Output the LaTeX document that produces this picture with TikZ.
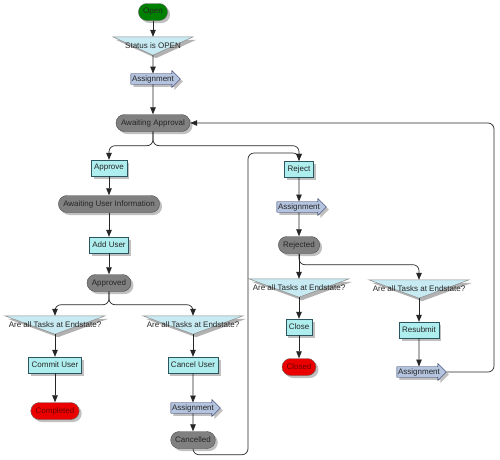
\documentclass[tikz,border=0pt]{standalone}
\usepackage{fontspec}
\setmainfont{Liberation Sans}
\usetikzlibrary{arrows.meta, positioning, shapes.misc, shapes.arrows, shadows, calc}
\pgfdeclarelayer{bg}
\pgfsetlayers{bg,main}
\definecolor{stgreen}{RGB}{0,128,0}
\definecolor{stgrey}{RGB}{128,128,128}
\definecolor{taskcyan}{RGB}{175,238,238}
\definecolor{taskedge}{RGB}{45,85,95}
\definecolor{stred}{RGB}{235,0,0}
\definecolor{asgnblue}{RGB}{180,196,222}
\definecolor{asgnedge}{RGB}{40,50,100}
\definecolor{decfill}{RGB}{200,234,242}

\begin{document}
\begin{tikzpicture}[
  x=1pt, y=-1pt,
  font=\fontsize{8}{9.5}\selectfont,
  flow/.style={line width=0.7pt, draw=black!85, rounded corners=6pt, -{Triangle[length=7pt,width=5.5pt]}},
  dropsh/.style={drop shadow={shadow xshift=2.5pt, shadow yshift=-2.5pt, fill=black!35, opacity=0.7}},
  statepill/.style={rounded rectangle, draw=black!70, fill=stgrey, text=black!85, minimum height=17pt, inner xsep=4pt, inner ysep=1pt, dropsh},
  startpill/.style={statepill, fill=stgreen, draw=black!60},
  endpill/.style={statepill, fill=stred, draw=black!60, text={rgb,255:red,110;green,0;blue,0}},
  task/.style={rectangle, draw=taskedge, fill=taskcyan, text=black!85, minimum height=16pt, inner xsep=3pt, inner ysep=1pt, dropsh},
  asgn/.style={single arrow, draw=asgnedge, fill=asgnblue, text=black!85, minimum height=48pt, minimum width=17pt, single arrow head extend=3pt, inner xsep=1pt, inner ysep=1pt, dropsh},
  dtext/.style={minimum width=100pt, minimum height=18pt, inner sep=0pt, text=black!85},
  decision/.style={fill=decfill, draw=black!45, line width=0.5pt}
  ]
  \useasboundingbox (0,0) rectangle (500,459);
  % main line
  \node[startpill] (op) at (153,12) {Open};
  \node[dtext, minimum width=80pt] (st) at (153,46) {Status is OPEN};
  \node[asgn] (as1) at (153,79) {Assignment};
  \node[statepill, minimum width=82pt] (aa) at (153,123) {Awaiting Approval};
  % approve branch
  \node[task] (ap) at (109,168) {Approve};
  \node[statepill] (au) at (109,204) {Awaiting User Information};
  \node[task] (ad) at (109,245) {Add User};
  \node[statepill] (av) at (109,283) {Approved};
  \node[dtext] (d1) at (55,325) {Are all Tasks at Endstate?};
  \node[dtext] (d2) at (193,325) {Are all Tasks at Endstate?};
  \node[task] (cu) at (55,365) {Commit User};
  \node[endpill] (cp) at (55,411) {Completed};
  \node[task] (cn) at (193,365) {Cancel User};
  \node[asgn] (as2) at (193,408) {Assignment};
  \node[statepill] (cd) at (193,440) {Cancelled};
  % reject branch
  \node[task] (rj) at (299,169) {Reject};
  \node[asgn] (as3) at (299,207) {Assignment};
  \node[statepill] (rd) at (299,245) {Rejected};
  \node[dtext] (d3) at (299,288) {Are all Tasks at Endstate?};
  \node[dtext] (d4) at (419,289) {Are all Tasks at Endstate?};
  \node[task] (cl) at (299,327) {Close};
  \node[endpill] (cs) at (299,367) {Closed};
  \node[task] (rs) at (419,330) {Resubmit};
  \node[asgn] (as4) at (419,372) {Assignment};
  \coordinate (lp) at (248,153);
  \coordinate (rt) at (494,250);

  \begin{pgfonlayer}{bg}
  \fill[white] (0,0) rectangle (500,459);
  \foreach \d in {st,d1,d2,d3,d4} {
    \fill[black!30] ([shift={(3pt,-3pt)}]\d.north west) -- ([shift={(3pt,-3pt)}]\d.north east) -- ([shift={(3pt,-3pt)}]\d.south) -- cycle;
    \filldraw[decision] (\d.north west) -- (\d.north east) -- (\d.south) -- cycle;
  }
  \end{pgfonlayer}

  \draw[flow] (op.south) -- (st.north);
  \draw[flow] (st.south) -- (as1.north);
  \draw[flow] (as1.south) -- (aa.north);
  \draw[flow] (aa.south) -- ++(0,14) -| (ap.north);
  \draw[flow] (aa.south) -- ++(0,14) -| (rj.north);
  \draw[flow] (ap.south) -- (au.north);
  \draw[flow] (au.south) -- (ad.north);
  \draw[flow] (ad.south) -- (av.north);
  \draw[flow] (av.south) -- ++(0,13) -| (d1.north);
  \draw[flow] (av.south) -- ++(0,13) -| (d2.north);
  \draw[flow] (d1.south) -- (cu.north);
  \draw[flow] (cu.south) -- (cp.north);
  \draw[flow] (d2.south) -- (cn.north);
  \draw[flow] (cn.south) -- (as2.north);
  \draw[flow] (as2.south) -- (cd.north);
  \draw[flow] (cd.south) -- ++(0,6) -| (lp) -| (rj.north);
  \draw[flow] (rj.south) -- (as3.north);
  \draw[flow] (as3.south) -- (rd.north);
  \draw[flow] (rd.south) -- (d3.north);
  \draw[flow] (rd.south) -- ++(0,11) -| (d4.north);
  \draw[flow] (d3.south) -- (cl.north);
  \draw[flow] (cl.south) -- (cs.north);
  \draw[flow] (d4.south) -- (rs.north);
  \draw[flow] (rs.south) -- (as4.north);
  \draw[flow] (as4.tip) -| (rt) |- (aa.east);
\end{tikzpicture}
\end{document}
